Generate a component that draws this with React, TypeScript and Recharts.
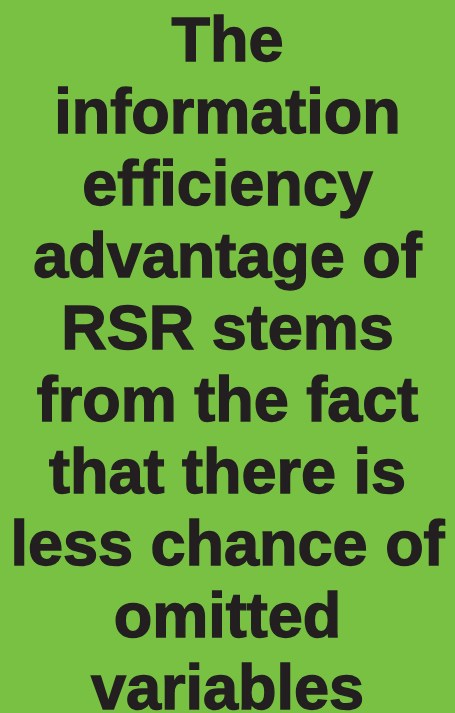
import React from 'react';
import { Surface, Text } from 'recharts';

// 文字行
const lines = [
  'The',
  'information',
  'efficiency',
  'advantage of',
  'RSR stems',
  'from the fact',
  'that there is',
  'less chance of',
  'omitted',
  'variables',
];

const WIDTH = 455;
const HEIGHT = 713;
const FIRST_BASELINE = 61;
const LINE_GAP = 72;

const App: React.FC = () => {
  return (
    <div style={{ position: 'absolute', top: 0, left: 0, width: WIDTH, height: HEIGHT, background: '#78C143' }}>
      <Surface width={WIDTH} height={HEIGHT}>
        <rect x={0} y={0} width={WIDTH} height={HEIGHT} fill="#78C143" />
        {lines.map((line, i) => (
          <Text
            key={line}
            x={WIDTH / 2}
            y={FIRST_BASELINE + i * LINE_GAP}
            textAnchor="middle"
            verticalAnchor="end"
            fill="#231F20"
            stroke="#231F20"
            strokeWidth={1.4}
            style={{ fontFamily: '"Liberation Sans", Arial, sans-serif', fontWeight: 700, fontSize: 63 }}
          >
            {line}
          </Text>
        ))}
      </Surface>
    </div>
  );
};

export default App;
